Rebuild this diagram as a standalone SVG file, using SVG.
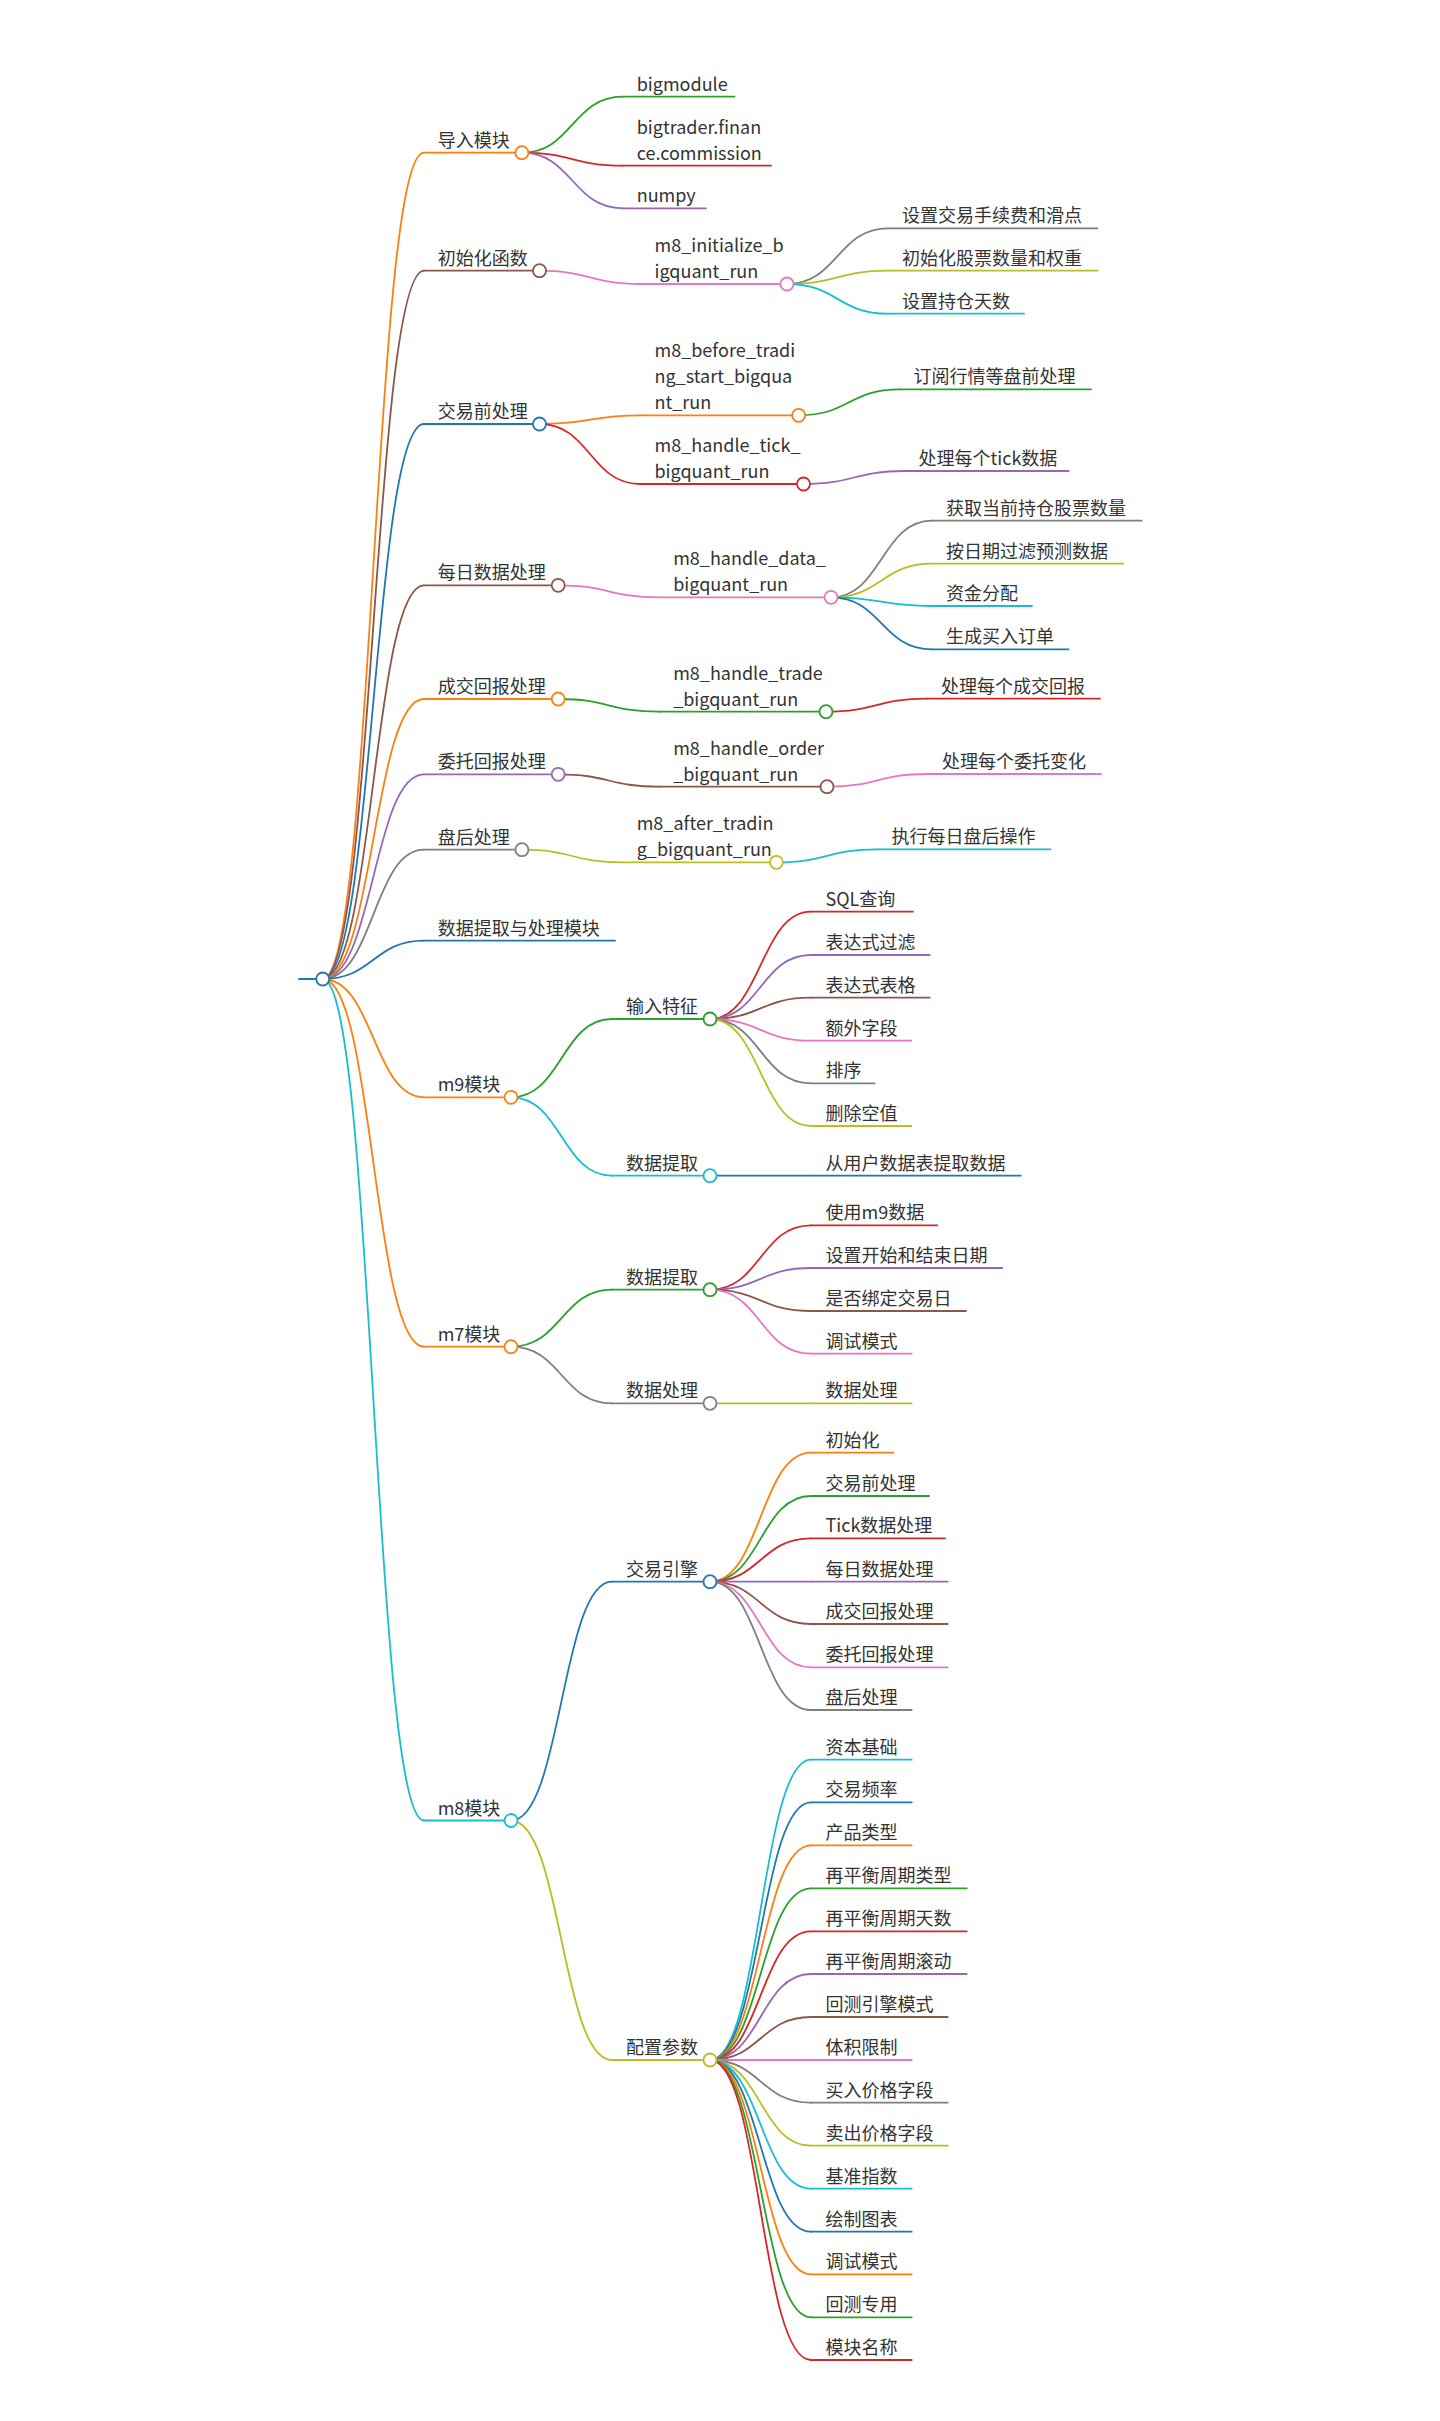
<svg xmlns="http://www.w3.org/2000/svg" width="1440" height="2421" viewBox="0 0 1440 2421">
<style>
.t{font-family:"Noto Sans CJK SC","Noto Sans",sans-serif;font-size:18px;fill:#333}
path{fill:none;stroke-width:1.8;stroke-linecap:round}
circle{fill:#fff;stroke-width:1.8}
.b{stroke:#1f77b4}.o{stroke:#ff7f0e}.g{stroke:#2ca02c}.r{stroke:#d62728}.p{stroke:#9467bd}
.br{stroke:#8c564b}.pk{stroke:#e377c2}.gy{stroke:#7f7f7f}.ol{stroke:#bcbd22}.cy{stroke:#17becf}
</style>
<rect width="1440" height="2421" fill="#fff"/>
<g id="links">
<path class="o" d="M322.7,979C373.4,979 373.4,152.7 424,152.7"/>
<path class="br" d="M322.7,979C373.4,979 373.4,270.7 424,270.7"/>
<path class="b" d="M322.7,979C373.4,979 373.4,424 424,424"/>
<path class="br" d="M322.7,979C373.4,979 373.4,585.3 424,585.3"/>
<path class="o" d="M322.7,979C373.4,979 373.4,699 424,699"/>
<path class="p" d="M322.7,979C373.4,979 373.4,774.3 424,774.3"/>
<path class="gy" d="M322.7,979C373.4,979 373.4,849.7 424,849.7"/>
<path class="b" d="M322.7,979C373.4,979 373.4,940.7 424,940.7"/>
<path class="o" d="M322.7,979C373.4,979 373.4,1097.3 424,1097.3"/>
<path class="o" d="M322.7,979C373.4,979 373.4,1346.7 424,1346.7"/>
<path class="cy" d="M322.7,979C373.4,979 373.4,1820.5 424,1820.5"/>

<path class="g" d="M521.9,152.7C572.3,152.7 572.3,96.7 622.7,96.7"/>
<path class="r" d="M521.9,152.7C572.3,152.7 572.3,165.7 622.7,165.7"/>
<path class="p" d="M521.9,152.7C572.3,152.7 572.3,208.3 622.7,208.3"/>
<path class="pk" d="M539.5,270.7C590,270.7 590,284 640.5,284"/>
<path class="o" d="M539.5,424C590,424 590,415.3 640.5,415.3"/>
<path class="r" d="M539.5,424C590,424 590,484 640.5,484"/>
<path class="pk" d="M558.2,585.3C608.7,585.3 608.7,597.3 659.2,597.3"/>
<path class="g" d="M558.2,699C608.7,699 608.7,711.7 659.2,711.7"/>
<path class="br" d="M558.2,774.3C608.7,774.3 608.7,786.7 659.2,786.7"/>
<path class="ol" d="M521.9,849.7C572.3,849.7 572.3,862.3 622.7,862.3"/>
<path class="g" d="M511,1097.3C561.5,1097.3 561.5,1019 612,1019"/>
<path class="cy" d="M511,1097.3C561.5,1097.3 561.5,1175.7 612,1175.7"/>
<path class="g" d="M511,1346.7C561.5,1346.7 561.5,1289.7 612,1289.7"/>
<path class="gy" d="M511,1346.7C561.5,1346.7 561.5,1403.3 612,1403.3"/>
<path class="b" d="M511,1820.5C561.5,1820.5 561.5,1581.7 612,1581.7"/>
<path class="ol" d="M511,1820.5C561.5,1820.5 561.5,2060 612,2060"/>

<path class="gy" d="M787,284C837.5,284 837.5,228.3 888,228.3"/>
<path class="ol" d="M787,284C837.5,284 837.5,270.7 888,270.7"/>
<path class="cy" d="M787,284C837.5,284 837.5,313.7 888,313.7"/>
<path class="g" d="M798.6,415.3C849.1,415.3 849.1,389.3 899.6,389.3"/>
<path class="p" d="M803.5,484C854,484 854,471 904.5,471"/>
<path class="gy" d="M831,597.3C881.5,597.3 881.5,520.7 932,520.7"/>
<path class="ol" d="M831,597.3C881.5,597.3 881.5,563.7 932,563.7"/>
<path class="cy" d="M831,597.3C881.5,597.3 881.5,606 932,606"/>
<path class="b" d="M831,597.3C881.5,597.3 881.5,649.3 932,649.3"/>
<path class="r" d="M826,711.7C876.5,711.7 876.5,698.7 927,698.7"/>
<path class="pk" d="M827,786.7C877.5,786.7 877.5,774 928,774"/>
<path class="cy" d="M776.4,862.3C826.9,862.3 826.9,849.3 877.4,849.3"/>

<path class="r" d="M710,1019C760.5,1019 760.5,911.7 811,911.7"/>
<path class="p" d="M710,1019C760.5,1019 760.5,955 811,955"/>
<path class="br" d="M710,1019C760.5,1019 760.5,997.7 811,997.7"/>
<path class="pk" d="M710,1019C760.5,1019 760.5,1040.7 811,1040.7"/>
<path class="gy" d="M710,1019C760.5,1019 760.5,1083.3 811,1083.3"/>
<path class="ol" d="M710,1019C760.5,1019 760.5,1126 811,1126"/>
<path class="b" d="M710,1175.7C760.5,1175.7 760.5,1175.7 811,1175.7"/>
<path class="r" d="M710,1289.7C760.5,1289.7 760.5,1225.3 811,1225.3"/>
<path class="p" d="M710,1289.7C760.5,1289.7 760.5,1268 811,1268"/>
<path class="br" d="M710,1289.7C760.5,1289.7 760.5,1311 811,1311"/>
<path class="pk" d="M710,1289.7C760.5,1289.7 760.5,1353.7 811,1353.7"/>
<path class="ol" d="M710,1403.3C760.5,1403.3 760.5,1403.3 811,1403.3"/>

<path class="o" d="M710,1581.7C760.5,1581.7 760.5,1452.7 811,1452.7"/>
<path class="g" d="M710,1581.7C760.5,1581.7 760.5,1496 811,1496"/>
<path class="r" d="M710,1581.7C760.5,1581.7 760.5,1538.3 811,1538.3"/>
<path class="p" d="M710,1581.7C760.5,1581.7 760.5,1581.7 811,1581.7"/>
<path class="br" d="M710,1581.7C760.5,1581.7 760.5,1624 811,1624"/>
<path class="pk" d="M710,1581.7C760.5,1581.7 760.5,1667.3 811,1667.3"/>
<path class="gy" d="M710,1581.7C760.5,1581.7 760.5,1710 811,1710"/>

<path class="cy" d="M710,2060C760.5,2060 760.5,1759.7 811,1759.7"/>
<path class="b" d="M710,2060C760.5,2060 760.5,1802.3 811,1802.3"/>
<path class="o" d="M710,2060C760.5,2060 760.5,1845.3 811,1845.3"/>
<path class="g" d="M710,2060C760.5,2060 760.5,1888.3 811,1888.3"/>
<path class="r" d="M710,2060C760.5,2060 760.5,1931.3 811,1931.3"/>
<path class="p" d="M710,2060C760.5,2060 760.5,1974 811,1974"/>
<path class="br" d="M710,2060C760.5,2060 760.5,2017 811,2017"/>
<path class="pk" d="M710,2060C760.5,2060 760.5,2060 811,2060"/>
<path class="gy" d="M710,2060C760.5,2060 760.5,2102.7 811,2102.7"/>
<path class="ol" d="M710,2060C760.5,2060 760.5,2145.7 811,2145.7"/>
<path class="cy" d="M710,2060C760.5,2060 760.5,2188.7 811,2188.7"/>
<path class="b" d="M710,2060C760.5,2060 760.5,2231.7 811,2231.7"/>
<path class="o" d="M710,2060C760.5,2060 760.5,2274.3 811,2274.3"/>
<path class="g" d="M710,2060C760.5,2060 760.5,2317.3 811,2317.3"/>
<path class="r" d="M710,2060C760.5,2060 760.5,2360 811,2360"/>
</g>

<g id="root"><path class="b" d="M299,979H322.7"/><circle class="b" cx="322.7" cy="979" r="6.5"/></g>

<g id="n-import"><path class="o" d="M424,152.7H521.9"/><circle class="o" cx="521.9" cy="152.7" r="6.5"/><text class="t" x="437.7" y="146.7">导入模块</text></g>
<g id="n-bigmodule"><path class="g" d="M622.7,96.7H734.6"/><text class="t" x="636.7" y="90.7">bigmodule</text></g>
<g id="n-bigtrader"><path class="r" d="M622.7,165.7H771"/><text class="t" x="636.7" y="133.7">bigtrader.finan</text><text class="t" x="636.7" y="159.7">ce.commission</text></g>
<g id="n-numpy"><path class="p" d="M622.7,208.3H706"/><text class="t" x="636.7" y="202.3">numpy</text></g>

<g id="n-init"><path class="br" d="M424,270.7H539.5"/><circle class="br" cx="539.5" cy="270.7" r="6.5"/><text class="t" x="437.7" y="264.7">初始化函数</text></g>
<g id="n-m8init"><path class="pk" d="M640.5,284H787"/><circle class="pk" cx="787" cy="284" r="6.5"/><text class="t" x="654.5" y="252">m8_initialize_b</text><text class="t" x="654.5" y="278">igquant_run</text></g>
<g id="n-fee"><path class="gy" d="M888,228.3H1097.5"/><text class="t" x="902" y="222.3">设置交易手续费和滑点</text></g>
<g id="n-weight"><path class="ol" d="M888,270.7H1097.5"/><text class="t" x="902" y="264.7">初始化股票数量和权重</text></g>
<g id="n-hold"><path class="cy" d="M888,313.7H1024"/><text class="t" x="902" y="307.7">设置持仓天数</text></g>

<g id="n-pre"><path class="b" d="M424,424H539.5"/><circle class="b" cx="539.5" cy="424" r="6.5"/><text class="t" x="437.7" y="418">交易前处理</text></g>
<g id="n-m8before"><path class="o" d="M640.5,415.3H798.6"/><circle class="o" cx="798.6" cy="415.3" r="6.5"/><text class="t" x="654.5" y="357.3">m8_before_tradi</text><text class="t" x="654.5" y="383.3">ng_start_bigqua</text><text class="t" x="654.5" y="409.3">nt_run</text></g>
<g id="n-sub"><path class="g" d="M899.6,389.3H1091"/><text class="t" x="913.6" y="383.3">订阅行情等盘前处理</text></g>
<g id="n-m8tick"><path class="r" d="M640.5,484H803.5"/><circle class="r" cx="803.5" cy="484" r="6.5"/><text class="t" x="654.5" y="452">m8_handle_tick_</text><text class="t" x="654.5" y="478">bigquant_run</text></g>
<g id="n-tick"><path class="p" d="M904.5,471H1068.6"/><text class="t" x="918.5" y="465">处理每个tick数据</text></g>

<g id="n-daily"><path class="br" d="M424,585.3H558.2"/><circle class="br" cx="558.2" cy="585.3" r="6.5"/><text class="t" x="437.7" y="579.3">每日数据处理</text></g>
<g id="n-m8data"><path class="pk" d="M659.2,597.3H831"/><circle class="pk" cx="831" cy="597.3" r="6.5"/><text class="t" x="673.2" y="565.3">m8_handle_data_</text><text class="t" x="673.2" y="591.3">bigquant_run</text></g>
<g id="n-pos"><path class="gy" d="M932,520.7H1141.8"/><text class="t" x="946" y="514.7">获取当前持仓股票数量</text></g>
<g id="n-filter"><path class="ol" d="M932,563.7H1123"/><text class="t" x="946" y="557.7">按日期过滤预测数据</text></g>
<g id="n-alloc"><path class="cy" d="M932,606H1032"/><text class="t" x="946" y="600">资金分配</text></g>
<g id="n-order"><path class="b" d="M932,649.3H1068.6"/><text class="t" x="946" y="643.3">生成买入订单</text></g>

<g id="n-trade"><path class="o" d="M424,699H558.2"/><circle class="o" cx="558.2" cy="699" r="6.5"/><text class="t" x="437.7" y="693">成交回报处理</text></g>
<g id="n-m8trade"><path class="g" d="M659.2,711.7H826"/><circle class="g" cx="826" cy="711.7" r="6.5"/><text class="t" x="673.2" y="679.7">m8_handle_trade</text><text class="t" x="673.2" y="705.7">_bigquant_run</text></g>
<g id="n-trade-each"><path class="r" d="M927,698.7H1100"/><text class="t" x="941" y="692.7">处理每个成交回报</text></g>

<g id="n-entrust"><path class="p" d="M424,774.3H558.2"/><circle class="p" cx="558.2" cy="774.3" r="6.5"/><text class="t" x="437.7" y="768.3">委托回报处理</text></g>
<g id="n-m8order"><path class="br" d="M659.2,786.7H827"/><circle class="br" cx="827" cy="786.7" r="6.5"/><text class="t" x="673.2" y="754.7">m8_handle_order</text><text class="t" x="673.2" y="780.7">_bigquant_run</text></g>
<g id="n-order-each"><path class="pk" d="M928,774H1101"/><text class="t" x="942" y="768">处理每个委托变化</text></g>

<g id="n-after"><path class="gy" d="M424,849.7H521.9"/><circle class="gy" cx="521.9" cy="849.7" r="6.5"/><text class="t" x="437.7" y="843.7">盘后处理</text></g>
<g id="n-m8after"><path class="ol" d="M622.7,862.3H776.4"/><circle class="ol" cx="776.4" cy="862.3" r="6.5"/><text class="t" x="636.7" y="830.3">m8_after_tradin</text><text class="t" x="636.7" y="856.3">g_bigquant_run</text></g>
<g id="n-after-op"><path class="cy" d="M877.4,849.3H1050.6"/><text class="t" x="891.4" y="843.3">执行每日盘后操作</text></g>

<g id="n-extract-mod"><path class="b" d="M424,940.7H615"/><text class="t" x="437.7" y="934.7">数据提取与处理模块</text></g>

<g id="n-m9"><path class="o" d="M424,1097.3H511"/><circle class="o" cx="511" cy="1097.3" r="6.5"/><text class="t" x="437.7" y="1091.3">m9模块</text></g>
<g id="n-m9-input"><path class="g" d="M612,1019H710"/><circle class="g" cx="710" cy="1019" r="6.5"/><text class="t" x="626" y="1013">输入特征</text></g>
<g id="n-sql"><path class="r" d="M811,911.7H912.8"/><text class="t" x="825.5" y="905.7">SQL查询</text></g>
<g id="n-exprf"><path class="p" d="M811,955H929.7"/><text class="t" x="825.5" y="949">表达式过滤</text></g>
<g id="n-exprt"><path class="br" d="M811,997.7H929.7"/><text class="t" x="825.5" y="991.7">表达式表格</text></g>
<g id="n-extra"><path class="pk" d="M811,1040.7H911.3"/><text class="t" x="825.5" y="1034.7">额外字段</text></g>
<g id="n-sort"><path class="gy" d="M811,1083.3H874.6"/><text class="t" x="825.5" y="1077.3">排序</text></g>
<g id="n-dropna"><path class="ol" d="M811,1126H911.3"/><text class="t" x="825.5" y="1120">删除空值</text></g>
<g id="n-m9-extract"><path class="cy" d="M612,1175.7H710"/><circle class="cy" cx="710" cy="1175.7" r="6.5"/><text class="t" x="626" y="1169.7">数据提取</text></g>
<g id="n-userdata"><path class="b" d="M811,1175.7H1020.7"/><text class="t" x="825.5" y="1169.7">从用户数据表提取数据</text></g>

<g id="n-m7"><path class="o" d="M424,1346.7H511"/><circle class="o" cx="511" cy="1346.7" r="6.5"/><text class="t" x="437.7" y="1340.7">m7模块</text></g>
<g id="n-m7-extract"><path class="g" d="M612,1289.7H710"/><circle class="g" cx="710" cy="1289.7" r="6.5"/><text class="t" x="626" y="1283.7">数据提取</text></g>
<g id="n-usem9"><path class="r" d="M811,1225.3H937.3"/><text class="t" x="825.5" y="1219.3">使用m9数据</text></g>
<g id="n-dates"><path class="p" d="M811,1268H1002.3"/><text class="t" x="825.5" y="1262">设置开始和结束日期</text></g>
<g id="n-bind"><path class="br" d="M811,1311H966"/><text class="t" x="825.5" y="1305">是否绑定交易日</text></g>
<g id="n-debug7"><path class="pk" d="M811,1353.7H911.7"/><text class="t" x="825.5" y="1347.7">调试模式</text></g>
<g id="n-m7-proc"><path class="gy" d="M612,1403.3H710"/><circle class="gy" cx="710" cy="1403.3" r="6.5"/><text class="t" x="626" y="1397.3">数据处理</text></g>
<g id="n-proc"><path class="ol" d="M811,1403.3H911.7"/><text class="t" x="825.5" y="1397.3">数据处理</text></g>

<g id="n-m8"><path class="cy" d="M424,1820.5H511"/><circle class="cy" cx="511" cy="1820.5" r="6.5"/><text class="t" x="437.7" y="1814.5">m8模块</text></g>
<g id="n-engine"><path class="b" d="M612,1581.7H710"/><circle class="b" cx="710" cy="1581.7" r="6.5"/><text class="t" x="626" y="1575.7">交易引擎</text></g>
<g id="n-e1"><path class="o" d="M811,1452.7H893.3"/><text class="t" x="825.5" y="1446.7">初始化</text></g>
<g id="n-e2"><path class="g" d="M811,1496H929.3"/><text class="t" x="825.5" y="1490">交易前处理</text></g>
<g id="n-e3"><path class="r" d="M811,1538.3H945"/><text class="t" x="825.5" y="1532.3">Tick数据处理</text></g>
<g id="n-e4"><path class="p" d="M811,1581.7H947.7"/><text class="t" x="825.5" y="1575.7">每日数据处理</text></g>
<g id="n-e5"><path class="br" d="M811,1624H947.7"/><text class="t" x="825.5" y="1618">成交回报处理</text></g>
<g id="n-e6"><path class="pk" d="M811,1667.3H947.7"/><text class="t" x="825.5" y="1661.3">委托回报处理</text></g>
<g id="n-e7"><path class="gy" d="M811,1710H911.7"/><text class="t" x="825.5" y="1704">盘后处理</text></g>

<g id="n-config"><path class="ol" d="M612,2060H710"/><circle class="ol" cx="710" cy="2060" r="6.5"/><text class="t" x="626" y="2054">配置参数</text></g>
<g id="n-c1"><path class="cy" d="M811,1759.7H911.7"/><text class="t" x="825.5" y="1753.7">资本基础</text></g>
<g id="n-c2"><path class="b" d="M811,1802.3H911.7"/><text class="t" x="825.5" y="1796.3">交易频率</text></g>
<g id="n-c3"><path class="o" d="M811,1845.3H911.7"/><text class="t" x="825.5" y="1839.3">产品类型</text></g>
<g id="n-c4"><path class="g" d="M811,1888.3H966.7"/><text class="t" x="825.5" y="1882.3">再平衡周期类型</text></g>
<g id="n-c5"><path class="r" d="M811,1931.3H966.7"/><text class="t" x="825.5" y="1925.3">再平衡周期天数</text></g>
<g id="n-c6"><path class="p" d="M811,1974H966.7"/><text class="t" x="825.5" y="1968">再平衡周期滚动</text></g>
<g id="n-c7"><path class="br" d="M811,2017H947.7"/><text class="t" x="825.5" y="2011">回测引擎模式</text></g>
<g id="n-c8"><path class="pk" d="M811,2060H911.7"/><text class="t" x="825.5" y="2054">体积限制</text></g>
<g id="n-c9"><path class="gy" d="M811,2102.7H947.7"/><text class="t" x="825.5" y="2096.7">买入价格字段</text></g>
<g id="n-c10"><path class="ol" d="M811,2145.7H947.7"/><text class="t" x="825.5" y="2139.7">卖出价格字段</text></g>
<g id="n-c11"><path class="cy" d="M811,2188.7H911.7"/><text class="t" x="825.5" y="2182.7">基准指数</text></g>
<g id="n-c12"><path class="b" d="M811,2231.7H911.7"/><text class="t" x="825.5" y="2225.7">绘制图表</text></g>
<g id="n-c13"><path class="o" d="M811,2274.3H911.7"/><text class="t" x="825.5" y="2268.3">调试模式</text></g>
<g id="n-c14"><path class="g" d="M811,2317.3H911.7"/><text class="t" x="825.5" y="2311.3">回测专用</text></g>
<g id="n-c15"><path class="r" d="M811,2360H911.7"/><text class="t" x="825.5" y="2354">模块名称</text></g>
</svg>
